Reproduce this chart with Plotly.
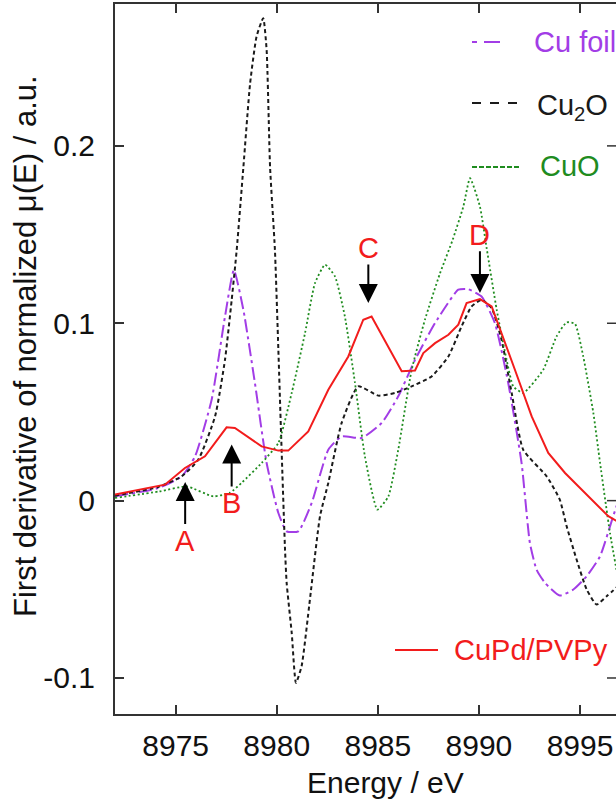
import plotly.graph_objects as go

# ---------------- data ----------------
cupd_x = [8972.0, 8974.47, 8975.46, 8976.45, 8977.52, 8977.93, 8979.25, 8980.08, 8980.57, 8981.56,
          8982.55, 8983.54, 8984.28, 8984.69, 8986.18, 8986.84, 8987.25, 8987.83, 8988.49, 8988.98,
          8989.39, 8990.05, 8990.63, 8991.12, 8991.78, 8992.61, 8993.43, 8994.26, 8995.41, 8996.40, 8996.9]
cupd_y = [0.0034, 0.009, 0.0184, 0.025, 0.0413, 0.041, 0.0306, 0.0282, 0.0282, 0.039,
          0.0625, 0.0813, 0.102, 0.1038, 0.0729, 0.0734, 0.0832, 0.0888, 0.0935, 0.0992,
          0.1114, 0.1136, 0.1095, 0.0945, 0.0738, 0.0475, 0.0269, 0.0156, 0.0024, -0.0088, -0.012]

cufoil_x = [8972.0, 8974.14, 8975.3, 8975.96, 8976.78, 8977.44, 8977.88, 8978.35, 8978.92, 8979.5,
            8980.08, 8980.49, 8981.07, 8981.73, 8982.55, 8983.21, 8984.2, 8985.19, 8986.01, 8986.84,
            8987.83, 8988.98, 8989.47, 8990.13, 8990.79, 8991.45, 8992.11, 8992.52, 8992.85, 8993.27,
            8994.0, 8994.67, 8995.33, 8995.99, 8996.64, 8996.9]
cufoil_y = [0.0024, 0.0071, 0.0137, 0.025, 0.0569, 0.1038, 0.130, 0.1076, 0.0663, 0.0212,
            -0.007, -0.0173, -0.0173, -0.0013, 0.0287, 0.0362, 0.0353, 0.0438, 0.0588, 0.0794,
            0.1001, 0.1189, 0.1192, 0.1151, 0.1001, 0.0663, 0.0212, -0.0238, -0.0389, -0.0464,
            -0.0535, -0.0501, -0.0426, -0.0314, -0.0088, 0.0]

cu2o_x = [8972.0, 8974.14, 8975.3, 8976.12, 8976.95, 8977.44, 8977.77, 8978.02, 8978.35, 8978.68,
          8979.0, 8979.33, 8979.5, 8979.67, 8979.91, 8980.08, 8980.24, 8980.41, 8980.49, 8980.74,
          8980.95, 8981.23, 8981.64, 8982.14, 8982.55, 8983.21, 8984.03, 8985.02, 8985.85, 8986.67,
          8987.66, 8988.49, 8989.14, 8989.64, 8990.13, 8990.63, 8991.12, 8991.62, 8992.19, 8993.35,
          8994.0, 8994.34, 8994.83, 8995.33, 8995.82, 8996.32, 8996.9]
cu2o_y = [0.0028, 0.0077, 0.0137, 0.0231, 0.0475, 0.0794, 0.113, 0.1414, 0.188, 0.235,
          0.2616, 0.272, 0.254, 0.188, 0.1414, 0.085, 0.0287, -0.0276, -0.0464, -0.0745,
          -0.1027, -0.0933, -0.0558, -0.0088, 0.01, 0.0438, 0.0644, 0.0592, 0.0607, 0.0644,
          0.07, 0.0813, 0.0982, 0.1095, 0.1132, 0.1085, 0.0907, 0.0607, 0.0287, 0.0137,
          0.0006, -0.0145, -0.0332, -0.0501, -0.0586, -0.0539, -0.048]

cuo_x = [8972.0, 8974.2, 8975.55, 8976.86, 8977.69, 8978.26, 8979.25, 8980.08, 8980.74, 8981.4,
         8981.89, 8982.39, 8982.88, 8983.37, 8983.87, 8984.36, 8984.98, 8985.52, 8986.01, 8986.67,
         8987.33, 8988.07, 8988.7, 8989.23, 8989.56, 8990.05, 8990.38, 8990.88, 8991.37, 8991.7,
         8992.19, 8993.18, 8993.84, 8994.34, 8994.75, 8995.16, 8995.66, 8995.99, 8996.48, 8996.9]
cuo_y = [0.0015, 0.0052, 0.008, 0.0024, 0.0045, 0.01, 0.0212, 0.0325, 0.0607, 0.0945,
         0.1226, 0.133, 0.1264, 0.1038, 0.0663, 0.025, -0.0051, 0.0024, 0.0287, 0.0735,
         0.102, 0.128, 0.147, 0.1658, 0.1818, 0.1658, 0.1425, 0.1076, 0.0794, 0.0644,
         0.0607, 0.0738, 0.0926, 0.1005, 0.0997, 0.0813, 0.0494, 0.0214, -0.018, -0.045]

x_ticks = [8975, 8980, 8985, 8990, 8995]
y_ticks = [-0.1, 0, 0.1, 0.2]
y_tick_text = ["-0.1", "0", "0.1", "0.2"]

legend_names = ["Cu foil", "Cu<sub>2</sub>O", "CuO", "CuPd/PVPy"]

marker_labels = ["A", "B", "C", "D"]
marker_x = [8975.47, 8977.77, 8984.53, 8990.05]
marker_tip_y = [0.0105, 0.0316, 0.1114, 0.117]
marker_label_y = [-0.0225, -0.0013, 0.1424, 0.1499]

# ---------------- styling ----------------
FONT = "Liberation Sans, Arial, sans-serif"
PURPLE = "#a23de6"
BLACK = "#1a1a1a"
GREEN = "#1f8c1f"
RED = "#f21c1c"

W, H = 616, 800
ML, MR, MT, MB = 115, 0, 4, 86
PW, PH = W - ML - MR, H - MT - MB
Y_RANGE = [-0.1203, 0.28]
X_RANGE = [8972.0, 8996.78]
PX_PER_Y = PH / (Y_RANGE[1] - Y_RANGE[0])


def px_to_paper(px, py):
    return (px - ML) / PW, (H - MB - py) / PH


fig = go.Figure()
fig.add_trace(go.Scatter(x=cufoil_x, y=cufoil_y, mode="lines", name="Cu foil",
                         line=dict(color=PURPLE, width=2, dash="13px,4px,3px,4px", shape="spline", smoothing=0.5)))
fig.add_trace(go.Scatter(x=cu2o_x, y=cu2o_y, mode="lines", name="Cu2O",
                         line=dict(color=BLACK, width=2, dash="4px,3px", shape="spline", smoothing=0.5)))
fig.add_trace(go.Scatter(x=cuo_x, y=cuo_y, mode="lines", name="CuO",
                         line=dict(color=GREEN, width=1.8, dash="2px,2.5px", shape="spline", smoothing=0.5)))
fig.add_trace(go.Scatter(x=cupd_x, y=cupd_y, mode="lines", name="CuPd/PVPy",
                         line=dict(color=RED, width=2)))

annotations = []
shapes = []

# arrows with their letters (letter sits at the arrow tail)
for lab, mx, ty, ly in zip(marker_labels, marker_x, marker_tip_y, marker_label_y):
    annotations.append(dict(x=mx, y=ty, xref="x", yref="y", text=lab, showarrow=True,
                            arrowhead=2, arrowsize=1.9, arrowwidth=2, arrowcolor="black",
                            ax=0, ay=(ty - ly) * PX_PER_Y, standoff=0, borderpad=0,
                            font=dict(family=FONT, size=29, color=RED)))

# legend samples (drawn manually)
legend_items = [
    (legend_names[0], PURPLE, "5px,7px,16px,40px", 472, 505, 42, 532, 42),
    (legend_names[1], BLACK, "9px,9px", 472, 517, 103, 535, 107),
    (legend_names[2], GREEN, "5px,2px", 472, 520, 167, 538, 166),
    (legend_names[3], RED, "solid", 395, 438, 650, 452, 650),
]
for name, col, dash, x0, x1, yl, xt, yt in legend_items:
    p0 = px_to_paper(x0, yl)
    p1 = px_to_paper(x1, yl)
    shapes.append(dict(type="line", xref="paper", yref="paper", x0=p0[0], x1=p1[0], y0=p0[1], y1=p1[1],
                       line=dict(color=col, width=2, dash=dash)))
    pt = px_to_paper(xt, yt)
    annotations.append(dict(x=pt[0], y=pt[1], xref="paper", yref="paper", text=name, showarrow=False,
                            xanchor="left", yanchor="middle",
                            font=dict(family=FONT, size=29, color=col)))

# right-side inward ticks (the right frame line lies just outside the picture)
for yt in y_ticks:
    shapes.append(dict(type="line", xref="paper", yref="y", x0=1 - 9 / PW, x1=1, y0=yt, y1=yt,
                       line=dict(color="#333333", width=1.5)))

# axis titles
tx, ty = px_to_paper(25, 346)
annotations.append(dict(x=tx, y=ty, xref="paper", yref="paper", text="First derivative of normalized μ(E) / a.u.",
                        textangle=-90, showarrow=False, xanchor="center", yanchor="middle",
                        font=dict(family=FONT, size=31, color="#111111")))
tx, ty = px_to_paper(385, 782)
annotations.append(dict(x=tx, y=ty, xref="paper", yref="paper", text="Energy / eV",
                        showarrow=False, xanchor="center", yanchor="middle",
                        font=dict(family=FONT, size=30, color="#111111")))

fig.update_layout(
    width=W, height=H,
    margin=dict(l=ML, r=MR, t=MT, b=MB, pad=0),
    paper_bgcolor="white", plot_bgcolor="white",
    showlegend=False,
    annotations=annotations,
    shapes=shapes,
    font=dict(family=FONT, size=30, color="#111111"),
)
fig.update_xaxes(range=X_RANGE, tickvals=x_ticks, ticks="inside", ticklen=9, tickwidth=1.5,
                 tickcolor="#333333", showline=True, linecolor="#333333", linewidth=2, mirror="ticks",
                 showgrid=False, zeroline=False, tickfont=dict(family=FONT, size=30, color="#111111"),
                 ticklabelstandoff=4)
fig.update_yaxes(range=Y_RANGE, tickvals=y_ticks, ticktext=y_tick_text, ticks="inside", ticklen=9,
                 tickwidth=1.5, tickcolor="#333333", showline=True, linecolor="#333333", linewidth=2,
                 mirror=False, showgrid=False, zeroline=False,
                 tickfont=dict(family=FONT, size=30, color="#111111"), ticklabelstandoff=12)

fig.write_html("out.html")
